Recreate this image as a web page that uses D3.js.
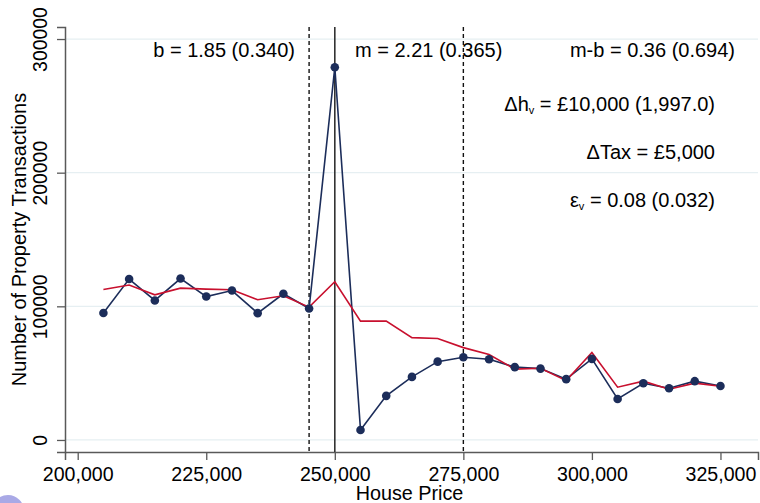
<!DOCTYPE html>
<html>
<head>
<meta charset="utf-8">
<script src="https://cdn.jsdelivr.net/npm/d3@7"></script>
<style>
  body { margin: 0; background: #fff; }
  svg { font-family: "Liberation Sans", Arial, sans-serif; }
</style>
</head>
<body>
<script>
// house price bins
const prices = [205000, 210000, 215000, 220000, 225000, 230000, 235000, 240000, 245000,
  250000, 255000, 260000, 265000, 270000, 275000, 280000, 285000, 290000, 295000,
  300000, 305000, 310000, 315000, 320000, 325000];
// observed transactions
const observed = [95000, 120400, 104400, 120800, 107300, 111800, 94900, 109400, 98400,
  278900, 7500, 33000, 47200, 58600, 61900, 60400, 54500, 53400, 45500,
  60700, 30700, 42400, 38700, 44000, 40400];
// counterfactual
const counterfactual = [112600, 115900, 108600, 113600, 112900, 112400, 104900, 107900, 99400,
  118400, 88900, 88900, 76600, 75900, 69100, 63900, 53000, 53700, 44400,
  65400, 39500, 44000, 38000, 42500, 40200];
const xTicks = [200000, 225000, 250000, 275000, 300000, 325000];
const yTicks = [0, 100000, 200000, 300000];
const dashedLines = [245000, 275000];
const solidLine = 250000;

const width = 760, height = 503;
const margin = {top: 27, right: 2, bottom: 51, left: 65};

const svg = d3.select("body").append("svg")
    .attr("width", width)
    .attr("height", height);

const x = d3.scaleLinear()
    .domain([197530, 332300])
    .range([margin.left, width - margin.right]);

const y = d3.scaleLinear()
    .domain([-9000, 309000])
    .range([height - margin.bottom, margin.top]);

// gridlines
svg.append("g")
  .selectAll("line")
  .data(yTicks)
  .enter().append("line")
  .attr("x1", margin.left).attr("x2", width - margin.right)
  .attr("y1", d => y(d)).attr("y2", d => y(d))
  .attr("stroke", "#e6eff2")
  .attr("stroke-width", 1.2);

// axes
const xAxis = svg.append("g")
    .attr("transform", `translate(0,${height - margin.bottom})`)
    .call(d3.axisBottom(x).tickValues(xTicks).tickFormat(d3.format(",")).tickSizeOuter(0).tickSize(8).tickPadding(7));
xAxis.select(".domain").attr("stroke", "#595959").attr("stroke-width", 1.5);
xAxis.selectAll(".tick line").attr("stroke", "#595959").attr("stroke-width", 1.3);
xAxis.selectAll("text").attr("font-size", 19.6).attr("fill", "#000")
    .attr("font-family", "Liberation Sans, Arial, sans-serif");

const yAxis = svg.append("g")
    .attr("transform", `translate(${margin.left},0)`)
    .call(d3.axisLeft(y).tickValues(yTicks).tickFormat(d3.format("d")).tickSizeOuter(0).tickSize(8));
yAxis.select(".domain").attr("stroke", "#595959").attr("stroke-width", 1.5);
yAxis.selectAll(".tick line").attr("stroke", "#595959").attr("stroke-width", 1.3);
yAxis.selectAll("text")
    .attr("font-size", 19.4).attr("fill", "#000")
    .attr("font-family", "Liberation Sans, Arial, sans-serif")
    .attr("text-anchor", "middle")
    .attr("x", 0).attr("dy", 0)
    .attr("transform", "translate(-18,0) rotate(-90)");

// axis titles
svg.append("text")
    .attr("x", (margin.left + width - margin.right) / 2 - 2)
    .attr("y", 500)
    .attr("text-anchor", "middle")
    .attr("font-size", 19.8)
    .text("House Price");

svg.append("text")
    .attr("transform", `translate(26,${(margin.top + height - margin.bottom) / 2}) rotate(-90)`)
    .attr("text-anchor", "middle")
    .attr("font-size", 20)
    .text("Number of Property Transactions");

// reference lines
svg.append("g")
  .selectAll("line")
  .data(dashedLines)
  .enter().append("line")
  .attr("x1", d => x(d)).attr("x2", d => x(d))
  .attr("y1", margin.top).attr("y2", height - margin.bottom)
  .attr("stroke", "#111")
  .attr("stroke-width", 1.4)
  .attr("stroke-dasharray", "4,3");

svg.append("line")
    .attr("x1", x(solidLine)).attr("x2", x(solidLine))
    .attr("y1", margin.top).attr("y2", height - margin.bottom)
    .attr("stroke", "#333")
    .attr("stroke-width", 1.6);

// series
const lineObs = d3.line()
    .x((d, i) => x(prices[i]))
    .y(d => y(d));

svg.append("path")
    .datum(observed)
    .attr("d", lineObs)
    .attr("fill", "none")
    .attr("stroke", "#1c2d5a")
    .attr("stroke-width", 1.6);

svg.append("path")
    .datum(counterfactual)
    .attr("d", lineObs)
    .attr("fill", "none")
    .attr("stroke", "#c8102e")
    .attr("stroke-width", 1.6);

svg.append("g")
  .selectAll("circle")
  .data(observed)
  .enter().append("circle")
  .attr("cx", (d, i) => x(prices[i]))
  .attr("cy", d => y(d))
  .attr("r", 4.3)
  .attr("fill", "#1c2d5a");

// annotations
const notes = svg.append("g").attr("font-size", 20).attr("fill", "#000");
notes.append("text").attr("x", 295).attr("y", 57).attr("text-anchor", "end").text("b = 1.85 (0.340)");
notes.append("text").attr("x", 355).attr("y", 57).text("m = 2.21 (0.365)");
notes.append("text").attr("x", 735).attr("y", 57).attr("text-anchor", "end").text("m-b = 0.36 (0.694)");

const t1 = notes.append("text").attr("x", 715).attr("y", 111).attr("text-anchor", "end");
t1.append("tspan").text("\u0394h");
t1.append("tspan").attr("font-size", 11).attr("dy", 3).text("v");
t1.append("tspan").attr("dy", -3).text(" = \u00a310,000 (1,997.0)");

notes.append("text").attr("x", 715).attr("y", 159).attr("text-anchor", "end").text("\u0394Tax = \u00a35,000");

const t2 = notes.append("text").attr("x", 715).attr("y", 207).attr("text-anchor", "end");
t2.append("tspan").text("\u03b5");
t2.append("tspan").attr("font-size", 11).attr("dy", 3).text("v");
t2.append("tspan").attr("dy", -3).text(" = 0.08 (0.032)");

// corner badge
svg.append("circle")
    .attr("cx", 8).attr("cy", 511).attr("r", 16)
    .attr("fill", "#a9a9e6");
</script>
</body>
</html>
